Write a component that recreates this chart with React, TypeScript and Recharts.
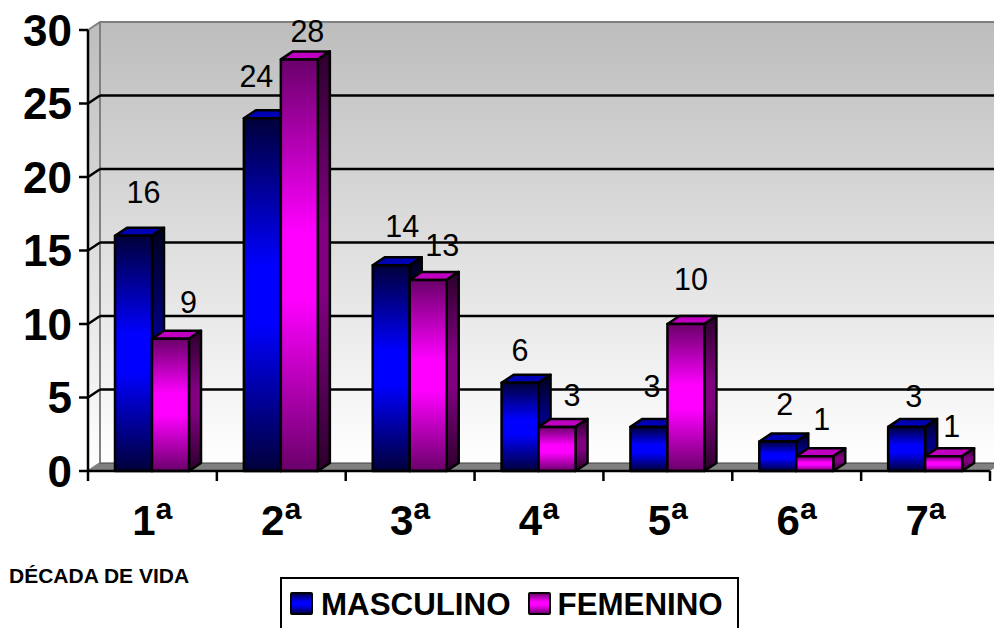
import { Bar, CartesianGrid, ComposedChart, LabelList, Legend, XAxis, YAxis } from "recharts";

const decades = ["1ª", "2ª", "3ª", "4ª", "5ª", "6ª", "7ª"];
const masculino = [16, 24, 14, 6, 3, 2, 3];
const femenino = [9, 28, 13, 3, 10, 1, 1];
const yTicks = [0, 5, 10, 15, 20, 25, 30];

// hand placement of the value labels, relative to the bar top
const mascLabelDx = [10, -6, 11, 0, 3, 7, 7];
const mascLabelLift = [44, 42, 39, 33, 41, 37, 31];
const femLabelDx = [18, 8, 14, 15, 5, 7, 8];
const femLabelLift = [37, 28, 35, 32, 45, 37, 30];

const rows = decades.map((decade, i) => ({
  decade,
  MASCULINO: masculino[i],
  FEMENINO: femenino[i],
}));

const FONT = "'Liberation Sans', Arial, sans-serif";
// depth of the fake 3D box
const DX = 12;
const DY = -8;

function Gradient({ id, edge, mid }: { id: string; edge: string; mid: string }) {
  return (
    <linearGradient id={id} x1="0" y1="0" x2="0" y2="1">
      <stop offset="0%" stopColor={edge} />
      <stop offset="42%" stopColor={mid} />
      <stop offset="58%" stopColor={mid} />
      <stop offset="100%" stopColor={edge} />
    </linearGradient>
  );
}

// back wall, left wall and floor
function Walls({ x, y, width, height }: any) {
  const bottom = y + height;
  return (
    <g>
      <rect x={x + DX} y={y + DY} width={width} height={height} fill="url(#wall)" />
      <path
        d={`M${x},${y} L${x + DX},${y + DY} L${x + DX},${bottom + DY} L${x},${bottom} Z`}
        fill="url(#wall)"
      />
      <path
        d={`M${x},${bottom} L${x + DX},${bottom + DY} L${x + width + DX},${bottom + DY} L${x + width},${bottom} Z`}
        fill="#808080"
      />
      <path
        d={`M${x},${y} L${x + DX},${y + DY} L${x + width + DX},${y + DY} M${x + DX},${y + DY} L${x + DX},${bottom + DY} L${x},${bottom}`}
        fill="none"
        stroke="#808080"
        strokeWidth={2}
      />
    </g>
  );
}

// the grid sits on the back wall, so the walls are painted with its first line
function GridLine(props: any) {
  const { x1, x2, y1, y2, index, x, y, width, height } = props;
  const isTop = Math.abs(y1 - y) < 1;
  const isFloor = Math.abs(y1 - (y + height)) < 1;
  return (
    <g key={`grid-${y1}`}>
      {index === 0 && <Walls x={x} y={y} width={width} height={height} />}
      {!isTop && (
        <line
          x1={x1 + DX}
          y1={y1 + DY}
          x2={x2 + DX}
          y2={y2 + DY}
          stroke={isFloor ? "#404040" : "#000"}
          strokeWidth={isFloor ? 1 : 2.5}
        />
      )}
      {!isTop && !isFloor && <line x1={x1} y1={y1} x2={x1 + DX} y2={y1 + DY} stroke="#000" strokeWidth={2.5} />}
    </g>
  );
}

function Box(props: any) {
  const { x, y, width, height, front, side, top } = props;
  const r = x + width;
  const b = y + height;
  return (
    <g stroke="#000" strokeWidth={2.5} strokeLinejoin="round">
      <path d={`M${x},${y} L${x + DX},${y + DY} L${r + DX},${y + DY} L${r},${y} Z`} fill={top} />
      <path d={`M${r},${y} L${r + DX},${y + DY} L${r + DX},${b + DY} L${r},${b} Z`} fill={side} />
      <rect x={x} y={y} width={width} height={height} fill={front} />
    </g>
  );
}

function valueLabel(dxs: number[], lifts: number[]) {
  return (props: any) => {
    const { x, y, width, value, index } = props;
    return (
      <text
        x={x + width / 2 + dxs[index]}
        y={y - lifts[index]}
        dy="0.355em"
        textAnchor="middle"
        fontFamily={FONT}
        fontSize={30.5}
        fill="#000"
      >
        {value}
      </text>
    );
  };
}

// category label plus the tick marks, which fall on the band edges
function DecadeTick(props: any) {
  const { x, y, payload, index, visibleTicksCount } = props;
  const half = payload.offset ?? 0;
  const axisY = y - 34;
  const label = String(payload.value);
  const isLast = index === (visibleTicksCount ?? decades.length) - 1;
  return (
    <g>
      <line x1={x - half} y1={axisY} x2={x - half} y2={axisY + 10} stroke="#000" strokeWidth={2.5} />
      {isLast && <line x1={x + half} y1={axisY} x2={x + half} y2={axisY + 10} stroke="#000" strokeWidth={2.5} />}
      <text x={x} y={y} dy="0.71em" textAnchor="middle" fontFamily={FONT} fontSize={42} fontWeight="bold" fill="#000">
        {label.slice(0, 1)}
        <tspan fontSize={46} dy={1}>{label.slice(1)}</tspan>
      </text>
    </g>
  );
}

function Swatch({ fill }: { fill: string }) {
  return (
    <svg width={24} height={24} style={{ display: "block" }}>
      <rect x={1} y={1} width={21} height={21} rx={1} fill={fill} stroke="#000" strokeWidth={2} />
    </svg>
  );
}

function LegendBox() {
  return (
    <div
      style={{
        boxSizing: "border-box",
        width: 459,
        height: 60,
        border: "2px solid #000",
        background: "#fff",
        display: "flex",
        alignItems: "flex-start",
        paddingTop: 13,
        paddingLeft: 8,
        fontFamily: FONT,
        fontWeight: "bold",
        fontSize: 31.3,
        lineHeight: "26px",
        color: "#000",
      }}
    >
      <Swatch fill="url(#blueFront)" />
      <span style={{ marginLeft: 7 }}>MASCULINO</span>
      <span style={{ marginLeft: 17 }}><Swatch fill="url(#pinkFront)" /></span>
      <span style={{ marginLeft: 6 }}>FEMENINO</span>
    </div>
  );
}

export default function App() {
  return (
    <div style={{ position: "absolute", left: 0, top: 0, width: 994, height: 628, overflow: "hidden", background: "#fff" }}>
      <ComposedChart
        width={994}
        height={628}
        data={rows}
        margin={{ top: 30, right: 4, bottom: 67, left: 0 }}
        barCategoryGap={27}
        barGap={0}
      >
        <defs>
          <linearGradient id="wall" x1="0" y1="0" x2="0" y2="1">
            <stop offset="0%" stopColor="#bdbdbd" />
            <stop offset="100%" stopColor="#ffffff" />
          </linearGradient>
          <Gradient id="blueFront" edge="#00003a" mid="#0000ff" />
          <Gradient id="blueSide" edge="#00001c" mid="#000080" />
          <Gradient id="pinkFront" edge="#6a006a" mid="#ff00ff" />
          <Gradient id="pinkSide" edge="#2a002a" mid="#800080" />
        </defs>
        <CartesianGrid vertical={false} horizontal={GridLine} />
        <XAxis
          dataKey="decade"
          height={30}
          axisLine={{ stroke: "#000", strokeWidth: 2.5 }}
          tickLine={false}
          tickSize={10}
          tickMargin={24}
          interval={0}
          tick={DecadeTick}
        />
        <YAxis
          width={88}
          domain={[0, 30]}
          ticks={yTicks}
          axisLine={{ stroke: "#000", strokeWidth: 2.5 }}
          tickLine={{ stroke: "#000", strokeWidth: 2.5 }}
          tickSize={9}
          tickMargin={7}
          tick={{ fontFamily: FONT, fontSize: 44, fontWeight: "bold", fill: "#000" }}
        />
        <Bar
          dataKey="MASCULINO"
          isAnimationActive={false}
          shape={(p: any) => <Box {...p} front="url(#blueFront)" side="url(#blueSide)" top="#0000b4" />}
        >
          <LabelList dataKey="MASCULINO" content={valueLabel(mascLabelDx, mascLabelLift)} />
        </Bar>
        <Bar
          dataKey="FEMENINO"
          isAnimationActive={false}
          shape={(p: any) => <Box {...p} front="url(#pinkFront)" side="url(#pinkSide)" top="#c000c0" />}
        >
          <LabelList dataKey="FEMENINO" content={valueLabel(femLabelDx, femLabelLift)} />
        </Bar>
        <text x={9} y={583} fontFamily={FONT} fontSize={21} fontWeight="bold" fill="#000">
          DÉCADA DE VIDA
        </text>
        <Legend
          content={LegendBox}
          wrapperStyle={{ position: "absolute", left: 280, top: 577, width: 459, height: 60 }}
        />
      </ComposedChart>
    </div>
  );
}
